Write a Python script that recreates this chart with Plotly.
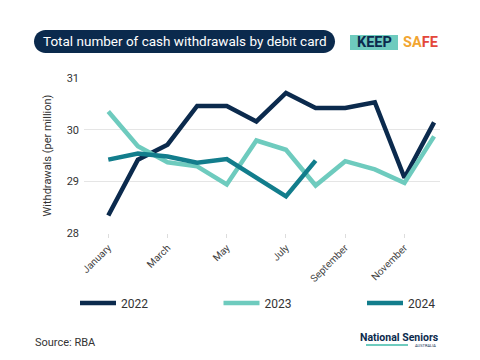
import plotly.graph_objects as go

months = ["January", "February", "March", "April", "May", "June", "July",
          "August", "September", "October", "November", "December"]
tick_months = ["January", "March", "May", "July", "September", "November"]

v2022 = [28.34, 29.42, 29.71, 30.46, 30.46, 30.16, 30.71, 30.42, 30.42, 30.53, 29.07, 30.14]
v2023 = [30.35, 29.68, 29.37, 29.29, 28.94, 29.79, 29.61, 28.92, 29.39, 29.23, 28.97, 29.87]
v2024 = [29.42, 29.54, 29.48, 29.36, 29.43, 29.08, 28.71, 29.40]

series = [("2022", v2022, "#0b2a4d", "legend", 75),
          ("2023", v2023, "#6ecbbe", "legend2", 218.5),
          ("2024", v2024, "#127d8c", "legend3", 362)]

W, H = 480, 360
ML, MR, MT, MB = 84, 40, 78, 127
PW, PH = W - ML - MR, H - MT - MB


def px(x):
    return (x - ML) / PW


def py(y):
    return (H - MB - y) / PH


FONT = "Roboto"

fig = go.Figure()
for name, vals, col, lg, _ in series:
    fig.add_trace(go.Scatter(x=months[:len(vals)], y=vals, name=name, mode="lines",
                             legend=lg, line=dict(color=col, width=4.5), hoverinfo="skip"))

# title pill
x0, x1, y0, y1 = 34, 335, 30, 53
r = (y1 - y0) / 2
k = 0.5523 * r
pts = [
    ("M", [(x0 + r, y0)]),
    ("L", [(x1 - r, y0)]),
    ("C", [(x1 - r + k, y0), (x1, y0 + r - k), (x1, y0 + r)]),
    ("C", [(x1, y0 + r + k), (x1 - r + k, y1), (x1 - r, y1)]),
    ("L", [(x0 + r, y1)]),
    ("C", [(x0 + r - k, y1), (x0, y0 + r + k), (x0, y0 + r)]),
    ("C", [(x0, y0 + r - k), (x0 + r - k, y0), (x0 + r, y0)]),
]
path = " ".join(c + " " + " ".join(f"{px(a):.5f},{py(b):.5f}" for a, b in p) for c, p in pts) + " Z"
shapes = [dict(type="path", path=path, xref="paper", yref="paper",
               fillcolor="#0b2a4d", line=dict(width=0), layer="below")]
# KEEP box
shapes.append(dict(type="rect", xref="paper", yref="paper", x0=px(350), x1=px(398),
                   y0=py(50), y1=py(35), fillcolor="#6ecbbe", line=dict(width=0)))
# National Seniors bar
shapes.append(dict(type="rect", xref="paper", yref="paper", x0=px(366), x1=px(408),
                   y0=py(346), y1=py(344), fillcolor="#6ecbbe", line=dict(width=0)))

annotations = [
    dict(text="Total number of cash withdrawals by debit card", x=px(184.5), y=py(41.5),
         xref="paper", yref="paper", showarrow=False, xanchor="center", yanchor="middle",
         font=dict(family=FONT, size=13.5, color="white")),
    dict(text="<b>KEEP</b>", x=px(374), y=py(42.5), xref="paper", yref="paper", showarrow=False,
         xanchor="center", yanchor="middle", font=dict(family=FONT, size=14.5, color="#0b2a4d")),
    dict(text="<b><span style='color:#f2a531'>SA</span><span style='color:#e4473a'>FE</span></b>",
         x=px(401), y=py(42.5), xref="paper", yref="paper", showarrow=False,
         xanchor="left", yanchor="middle", font=dict(family=FONT, size=14.5)),
    dict(text="Source: RBA", x=px(33), y=py(342), xref="paper", yref="paper", showarrow=False,
         xanchor="left", yanchor="middle", font=dict(family=FONT, size=11, color="#333333")),
    dict(text="<b>National Seniors</b>", x=px(441), y=py(337), xref="paper", yref="paper",
         showarrow=False, xanchor="right", yanchor="middle",
         font=dict(family="Roboto", size=10.5, color="#0b2a4d")),
    dict(text="AUSTRALIA", x=px(438), y=py(345.5), xref="paper", yref="paper",
         showarrow=False, xanchor="right", yanchor="middle",
         font=dict(family="Roboto", size=4, color="#0b2a4d")),
]

layout_legends = {}
for i, (name, vals, col, lg, lx) in enumerate(series):
    layout_legends[lg] = dict(orientation="h", xref="container", yref="container",
                              x=lx / W, y=(H - 303) / H, xanchor="left", yanchor="middle",
                              itemwidth=36, bgcolor="rgba(0,0,0,0)",
                              font=dict(family=FONT, size=12, color="#333333"))

fig.update_layout(
    width=W, height=H,
    margin=dict(l=ML, r=MR, t=MT, b=MB, autoexpand=False),
    paper_bgcolor="white", plot_bgcolor="white",
    font=dict(family=FONT, color="#333333"),
    shapes=shapes, annotations=annotations,
    showlegend=True,
    **layout_legends,
    xaxis=dict(type="category", categoryorder="array", categoryarray=months,
               range=[-0.82, 11.2], tickmode="array", tickvals=tick_months,
               tickangle=-45, ticks="outside", ticklen=4, tickcolor="#dddddd",
               showgrid=False, showline=False, zeroline=False, automargin=False,
               tickfont=dict(size=10, color="#444444")),
    yaxis=dict(range=[28, 31], tickvals=[28, 29, 30, 31], showgrid=True,
               gridcolor="#e5e5e5", gridwidth=1, zeroline=False, showline=False,
               ticks="", ticklabelstandoff=4, automargin=False,
               tickfont=dict(size=11, color="#333333"),
               title=dict(text="Withdrawals (per million)", standoff=12,
                          font=dict(size=11, color="#333333"))),
)

fig.write_html("out.html", config={"displayModeBar": False},
               post_script="document.body.style.margin='0';")
